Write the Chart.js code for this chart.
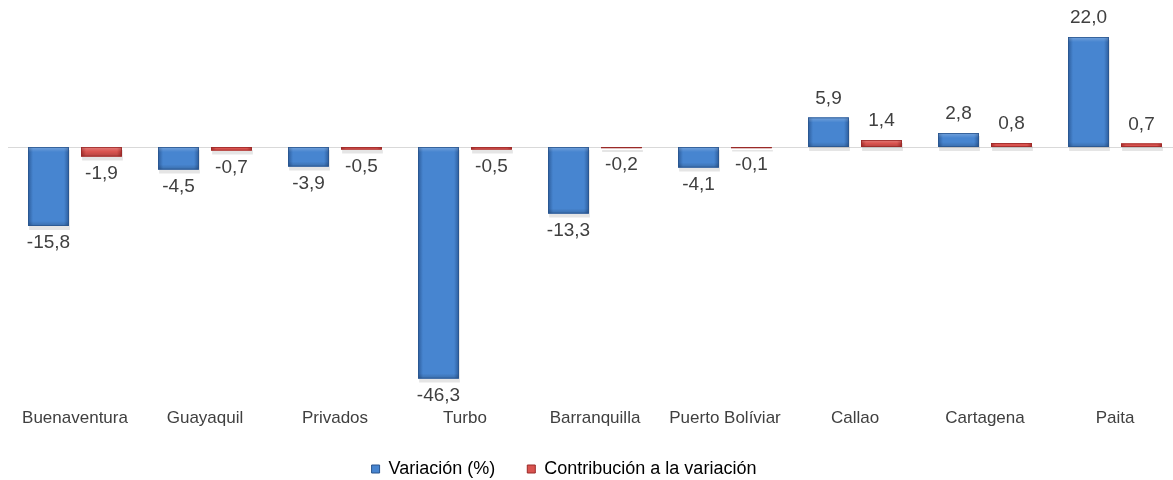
<!DOCTYPE html>
<html><head><meta charset="utf-8">
<script src="https://cdn.jsdelivr.net/npm/chart.js@4/dist/chart.umd.min.js"></script>
<style>html,body{margin:0;padding:0;background:#fff;overflow:hidden}#wrap{width:1173px;height:480px;overflow:hidden}</style>
</head><body><div id="wrap"><canvas id="c" width="1180" height="480"></canvas></div>
<script>
const categories = ["Buenaventura","Guayaquil","Privados","Turbo","Barranquilla","Puerto Bolíviar","Callao","Cartagena","Paita"];
const variacion = [-15.8,-4.5,-3.9,-46.3,-13.3,-4.1,5.9,2.8,22.0];
const contribucion = [-1.9,-0.7,-0.5,-0.5,-0.2,-0.1,1.4,0.8,0.7];
const seriesNames = ["Variación (%)","Contribución a la variación"];

const palettes = [
  {edge:"#2d5d9c", mid:"#4785d0", border:"#2a558e"},
  {edge:"#a92e2c", mid:"#d9534f", border:"#9a2a28"}
];
const FONT = '"Liberation Sans", Arial, sans-serif';
const fmt = v => v.toFixed(1).replace('.', ',');

const legendShift = {
  id:'legendShift',
  afterLayout(chart){
    const lg = chart.legend;
    if(lg){ lg.left -= 31; lg.right -= 31; }
  }
};

const barStyle = {
  id:'barStyle',
  beforeDatasetsDraw(chart){
    const ctx = chart.ctx;
    ctx.save();
    const y0 = Math.round(chart.scales.y.getPixelForValue(0))+0.5;
    ctx.strokeStyle='#d9d9d9'; ctx.lineWidth=1;
    ctx.beginPath(); ctx.moveTo(8,y0); ctx.lineTo(chart.width,y0); ctx.stroke();
    chart.data.datasets.forEach((ds,di)=>{
      const meta = chart.getDatasetMeta(di);
      meta.data.forEach(el=>{
        const {x,y,base,width} = el.getProps(['x','y','base','width'],true);
        const top=Math.min(y,base), h=Math.abs(base-y);
        ctx.fillStyle='rgba(0,0,0,0.10)';
        ctx.fillRect(x-width/2+1, top+3, width, h+1);
      });
    });
    ctx.restore();
  },
  afterDatasetsDraw(chart){
    const ctx = chart.ctx;
    ctx.save();
    chart.data.datasets.forEach((ds,di)=>{
      const meta = chart.getDatasetMeta(di);
      const p = palettes[di];
      meta.data.forEach((el,i)=>{
        const {x,y,base,width} = el.getProps(['x','y','base','width'],true);
        const top=Math.min(y,base), h=Math.abs(base-y);
        const l=x-width/2;
        const g=ctx.createLinearGradient(l,0,l+width,0);
        g.addColorStop(0,p.edge); g.addColorStop(0.12,p.mid);
        g.addColorStop(0.88,p.mid); g.addColorStop(1,p.edge);
        ctx.fillStyle=g;
        ctx.fillRect(l,top,width,h);
        if(h>6){
          const gv=ctx.createLinearGradient(0,top,0,top+h);
          gv.addColorStop(0,'rgba(255,255,255,0.25)');
          gv.addColorStop(Math.min(0.5,5/h),'rgba(255,255,255,0)');
          gv.addColorStop(Math.max(0.5,1-5/h),'rgba(0,0,0,0)');
          gv.addColorStop(1,'rgba(0,0,0,0.18)');
          ctx.fillStyle=gv; ctx.fillRect(l,top,width,h);
        }
        ctx.strokeStyle=p.border; ctx.lineWidth=0.8;
        ctx.strokeRect(l+0.4,top+0.4,width-0.8,Math.max(h-0.8,0.5));
        const v = ds.data[i];
        ctx.fillStyle='#404040';
        ctx.font='19px '+FONT;
        ctx.textAlign='center';
        ctx.textBaseline='middle';
        const ly = v>=0 ? Math.min(y,base)-19 : Math.max(y,base)+17;
        ctx.fillText(fmt(v), x, ly);
      });
    });
    ctx.restore();
  }
};

new Chart(document.getElementById('c'),{
  type:'bar',
  data:{
    labels:categories,
    datasets:[
      {label:seriesNames[0],data:variacion,backgroundColor:palettes[0].mid,borderWidth:0},
      {label:seriesNames[1],data:contribucion,backgroundColor:palettes[1].mid,borderWidth:0}
    ]
  },
  options:{
    responsive:false,animation:false,
    layout:{padding:{left:10,right:0,top:27,bottom:-8}},
    datasets:{bar:{categoryPercentage:0.815,barPercentage:0.77}},
    plugins:{
      tooltip:{enabled:false},
      legend:{position:'bottom',
        labels:{boxWidth:8,boxHeight:8,color:'#404040',padding:32,
          font:{size:18,family:FONT},
          generateLabels(chart){
            return chart.data.datasets.map((d,i)=>({text:d.label,fillStyle:palettes[i].mid,strokeStyle:palettes[i].border,lineWidth:1,datasetIndex:i}));
          }}
      }
    },
    scales:{
      x:{grid:{display:false},border:{display:false},
        afterFit(s){ s.height = 46; },
        ticks:{color:'#404040',padding:18,maxRotation:0,autoSkip:false,
          font:{size:17,family:FONT}}},
      y:{display:false,min:-47,max:24}
    }
  },
  plugins:[barStyle,legendShift]
});
</script></body></html>
